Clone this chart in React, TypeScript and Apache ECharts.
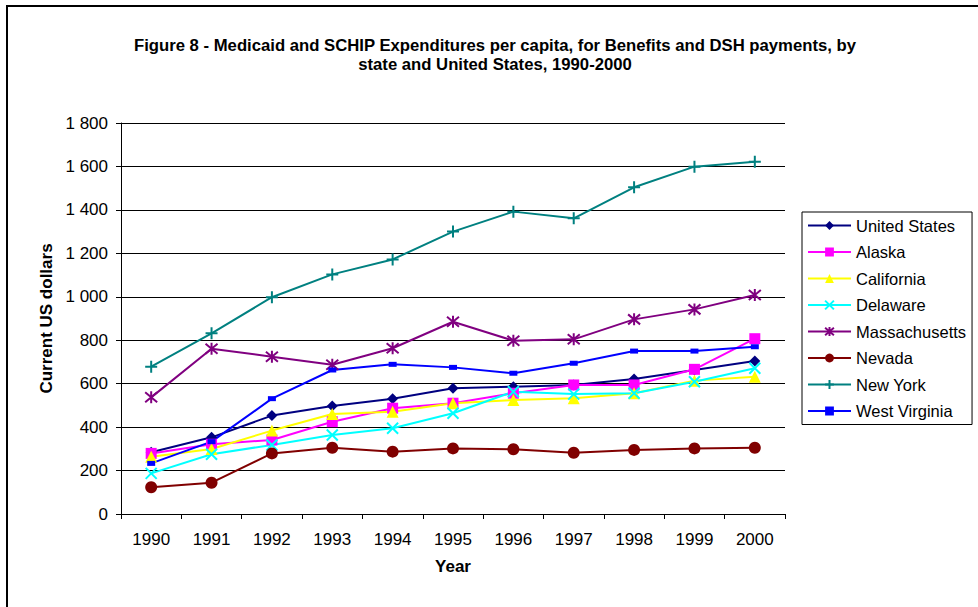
import React, { useEffect, useRef } from "react";
import * as echarts from "echarts";

const years = ["1990", "1991", "1992", "1993", "1994", "1995", "1996", "1997", "1998", "1999", "2000"];

const unitedStates = [284, 353, 453, 497, 531, 579, 586, 594, 622, 663, 704];
const alaska = [279, 321, 341, 425, 487, 510, 556, 594, 594, 666, 807];
const california = [264, 299, 384, 460, 471, 510, 525, 533, 556, 614, 632];
const delaware = [187, 275, 318, 364, 395, 464, 563, 552, 556, 609, 671];
const massachusetts = [537, 761, 724, 687, 763, 885, 798, 804, 896, 942, 1008];
const nevada = [123, 144, 279, 305, 287, 302, 298, 282, 295, 302, 305];
const newYork = [678, 832, 998, 1103, 1172, 1300, 1392, 1361, 1504, 1599, 1622];
const westVirginia = [233, 333, 531, 663, 689, 675, 648, 694, 750, 750, 770];

const titleText =
  "Figure 8 - Medicaid and SCHIP Expenditures per capita, for Benefits and DSH payments, by\nstate and United States, 1990-2000";

const FONT = "'Liberation Sans', Arial, sans-serif";

export default function App() {
  const ref = useRef<HTMLDivElement>(null);

  useEffect(() => {
    if (!ref.current) return;
    const chart = echarts.init(ref.current, undefined, { renderer: "svg" });

    const mk = (
      name: string,
      data: number[],
      color: string,
      symbol: string,
      symbolSize: number | number[],
      stroked = false
    ) => ({
      name,
      type: "line",
      data,
      symbol,
      symbolSize,
      showAllSymbol: true,
      lineStyle: { color, width: 2 },
      itemStyle: stroked
        ? { color, borderColor: color, borderWidth: 2 }
        : { color, borderWidth: 0 },
      emphasis: { disabled: true },
    });

    chart.setOption({
      animation: false,
      textStyle: { fontFamily: FONT },
      title: {
        text: titleText,
        left: 495,
        textAlign: "center",
        top: 36,
        padding: 0,
        textStyle: {
          fontFamily: FONT,
          fontSize: 16.7,
          fontWeight: "bold",
          color: "#000",
          lineHeight: 19,
        },
      },
      graphic: [
        {
          type: "rect",
          shape: { x: 7, y: 6, width: 1000, height: 700 },
          style: { fill: "none", stroke: "#000", lineWidth: 2 },
          silent: true,
        },
      ],
      legend: {
        orient: "vertical",
        left: 802,
        top: 212,
        padding: [5, 6, 5, 5],
        itemWidth: 43,
        itemHeight: 11,
        itemGap: 9.5,
        borderColor: "#000",
        borderWidth: 1,
        backgroundColor: "#fff",
        textStyle: { fontFamily: FONT, fontSize: 16.5, color: "#000", lineHeight: 17 },
        data: [
          "United States",
          "Alaska",
          "California",
          "Delaware",
          "Massachusetts",
          "Nevada",
          "New York",
          "West Virginia",
        ],
      },
      grid: { left: 121, right: 193, top: 123, bottom: 93, containLabel: false },
      xAxis: {
        type: "category",
        data: years,
        boundaryGap: true,
        name: "Year",
        nameLocation: "middle",
        nameGap: 44,
        nameTextStyle: { fontFamily: FONT, fontSize: 17, fontWeight: "bold", color: "#000" },
        axisLine: { lineStyle: { color: "#000", width: 1 } },
        axisTick: { show: true, length: 5, inside: false, alignWithLabel: false, lineStyle: { color: "#000" } },
        axisLabel: { fontFamily: FONT, fontSize: 17, color: "#000", margin: 17 },
        splitLine: { show: false },
      },
      yAxis: {
        type: "value",
        min: 0,
        max: 1800,
        interval: 200,
        name: "Current US dollars",
        nameLocation: "middle",
        nameGap: 65,
        nameRotate: 90,
        nameTextStyle: { fontFamily: FONT, fontSize: 17, fontWeight: "bold", color: "#000" },
        axisLine: { show: true, lineStyle: { color: "#000", width: 1 } },
        axisTick: { show: true, length: 5, inside: false, lineStyle: { color: "#000" } },
        axisLabel: {
          fontFamily: FONT,
          fontSize: 17,
          color: "#000",
          margin: 13,
          formatter: (v: number) => String(v).replace(/\B(?=(\d{3})+(?!\d))/g, " "),
        },
        splitLine: { show: true, lineStyle: { color: "#000", width: 1 } },
      },
      series: [
        mk("United States", unitedStates, "#000080", "diamond", 11),
        mk("Alaska", alaska, "#FF00FF", "rect", 11),
        mk("California", california, "#FFFF00", "triangle", 12),
        mk("Delaware", delaware, "#00FFFF", "path://M0,0L10,10M10,0L0,10", 11, true),
        mk("Massachusetts", massachusetts, "#800080", "path://M0,0L10,10M10,0L0,10M5,-1L5,11", 12, true),
        mk("Nevada", nevada, "#800000", "circle", 12),
        mk("New York", newYork, "#008080", "path://M5,0L5,10M0,5L10,5", 12, true),
        mk("West Virginia", westVirginia, "#0000FF", "rect", [8, 5]),
      ],
    });

    return () => chart.dispose();
  }, []);

  return (
    <div
      ref={ref}
      style={{ position: "absolute", left: 0, top: 0, width: 978, height: 607, background: "#fff" }}
    />
  );
}
